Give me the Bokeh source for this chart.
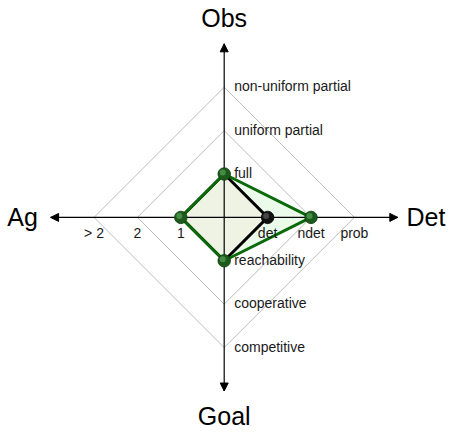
from bokeh.plotting import figure
from bokeh.models import Range1d, Arrow, NormalHead
from bokeh.core.properties import value
from bokeh.embed import file_html
from bokeh.resources import INLINE

# ---- data ----
axis_names = ["Obs", "Det", "Goal", "Ag"]
obs_ticks = ["full", "uniform partial", "non-uniform partial"]
det_ticks = ["det", "ndet", "prob"]
goal_ticks = ["reachability", "cooperative", "competitive"]
ag_ticks = ["1", "2", "> 2"]
series_black = [1, 1, 1, 1]   # Obs, Det, Goal, Ag
series_green = [1, 2, 1, 1]   # Obs, Det, Goal, Ag

# ---- layout / style ----
dirs = {"Obs": (0, 1), "Det": (1, 0), "Goal": (0, -1), "Ag": (-1, 0)}
W, H = 448, 430
STEP = 43.4
cx, cy = 223.7, 216.9  # centre in frame px (from top-left)
FONT = value("Liberation Sans")

p = figure(width=W, height=H, output_backend="svg", toolbar_location=None,
           x_range=Range1d(-cx / STEP, (W - cx) / STEP),
           y_range=Range1d(-(H - cy) / STEP, cy / STEP),
           min_border=0)
p.axis.visible = False
p.grid.visible = False
p.outline_line_color = None
p.background_fill_color = "white"
p.border_fill_color = "white"


def poly(vals):
    xs, ys = [], []
    for name, v in zip(axis_names, vals):
        dx, dy = dirs[name]
        xs.append(dx * v)
        ys.append(dy * v)
    return xs, ys


gx, gy = poly(series_green)
bx, by = poly(series_black)

# fills
p.patch(gx, gy, fill_color="#ebfbea", line_color=None)
p.patch(bx, by, fill_color="#eef3e4", line_color=None)

# grid diamonds
nlev = len(obs_ticks)
for lev in range(1, nlev + 1):
    xs, ys = poly([lev] * 4)
    p.line(xs + xs[:1], ys + ys[:1], line_color="#bdbdbd", line_width=1)

# axis lines
L = nlev + 1
for name in axis_names:
    dx, dy = dirs[name]
    p.segment(x0=[0], y0=[0], x1=[dx * L], y1=[dy * L], line_color="black", line_width=1.2)
    p.add_layout(Arrow(end=NormalHead(size=8, fill_color="black", line_color="black", line_width=1),
                       x_start=dx * (L - 0.3), y_start=dy * (L - 0.3),
                       x_end=dx * L, y_end=dy * L, line_alpha=0))

# polygon lines
p.line(bx + bx[:1], by + by[:1], line_color="black", line_width=2.9)
p.line(gx + gx[:1], gy + gy[:1], line_color="#0a6a0a", line_width=2.9)

# markers (sphere-ish)
off = 1.5 / STEP
mbx = [x for x, n, v in zip(bx, axis_names, series_black) if (series_green[axis_names.index(n)] != v)]
mby = [y for y, n, v in zip(by, axis_names, series_black) if (series_green[axis_names.index(n)] != v)]
p.scatter(mbx, mby, size=12.5, fill_color="#111111", line_color="#000000", line_width=0.8)
p.scatter([x - off for x in mbx], [y + off for y in mby], size=6, fill_color="#555555", line_color=None, fill_alpha=0.8)
p.scatter(gx, gy, size=12.5, fill_color="#1c5a1c", line_color="#0e3a0e", line_width=0.8)
p.scatter([x - off for x in gx], [y + off for y in gy], size=6, fill_color="#4e954e", line_color=None, fill_alpha=0.85)

# tick labels
tick_sets = {"Obs": obs_ticks, "Det": det_ticks, "Goal": goal_ticks, "Ag": ag_ticks}
for name in axis_names:
    dx, dy = dirs[name]
    labels = tick_sets[name]
    lv = list(range(1, len(labels) + 1))
    if dy != 0:
        p.text(x=[0.23] * len(labels), y=[dy * l + 0.02 for l in lv], text=labels,
               text_font=FONT, text_font_size="14px", text_color="#1a1a1a",
               text_align="left", text_baseline="middle")
    else:
        p.text(x=[dx * l for l in lv], y=[-0.37] * len(labels), text=labels,
               text_font=FONT, text_font_size="14px", text_color="#1a1a1a",
               text_align="center", text_baseline="middle")

# axis titles
title_pos = {"Obs": (0.0, 4.60), "Goal": (0.0, -4.57), "Ag": (-4.645, 0.02), "Det": (4.65, 0.0)}
for name in axis_names:
    tx, ty = title_pos[name]
    p.text(x=[tx], y=[ty], text=[name], text_font=FONT, text_font_size="25px",
           text_color="black", text_align="center", text_baseline="middle")

open("out.html", "w").write(file_html(p, INLINE))
